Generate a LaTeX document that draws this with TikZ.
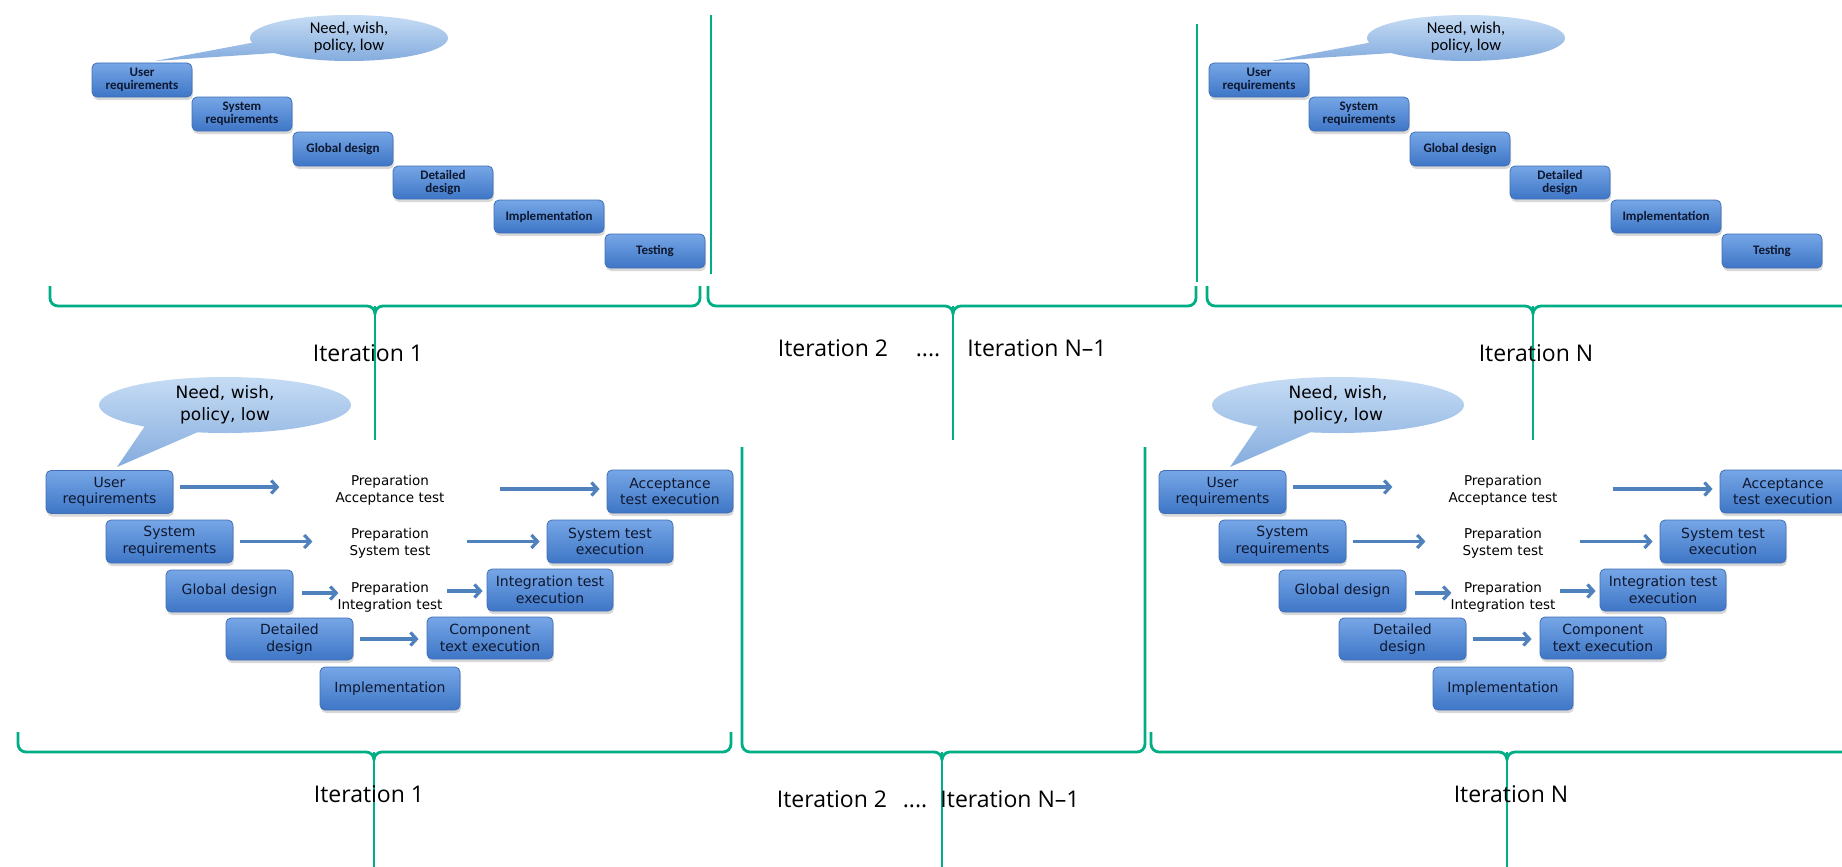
\documentclass[tikz,border=0pt]{standalone}
\usepackage{fontspec}
\newfontfamily\carl{Carlito}
\newfontfamily\dvs{DejaVu Sans}
\newfontfamily\opn{Open Sans}
\usetikzlibrary{arrows.meta,shadows}
\pgfdeclarelayer{bg}
\pgfsetlayers{bg,main}
\definecolor{grn}{RGB}{0,174,134}
\definecolor{boxtop}{RGB}{118,166,230}
\definecolor{boxbot}{RGB}{62,118,198}
\definecolor{boxedge}{RGB}{66,112,180}
\definecolor{txt}{RGB}{14,24,48}
\definecolor{bubtop}{RGB}{198,220,244}
\definecolor{bubbot}{RGB}{132,172,222}
\definecolor{arrowc}{RGB}{79,129,189}
\definecolor{connc}{RGB}{58,92,142}
\tikzset{
  boxbase/.style={draw=boxedge, line width=0.8pt, rounded corners=5pt, top color=boxtop, bottom color=boxbot, text=txt, align=center, inner sep=0pt, drop shadow={opacity=0.3, shadow xshift=1pt, shadow yshift=-3pt}},
  wbox/.style={boxbase, font=\carl\bfseries\fontsize{13}{13.5}\selectfont, minimum width=100pt, minimum height=34pt},
  vbox/.style={boxbase, font=\dvs\fontsize{14}{16.5}\selectfont, minimum width=127pt, minimum height=43pt},
  bubfill/.style={top color=bubtop, bottom color=bubbot},
  wbubtxt/.style={font=\carl\fontsize{16.5}{17}\selectfont, text=black, align=center, inner sep=0pt},
  vbubtxt/.style={font=\dvs\fontsize{17}{21.5}\selectfont, text=black, align=center, inner sep=0pt},
  prep/.style={font=\dvs\fontsize{13.5}{17}\selectfont, text=black, align=center, text width=112pt, inner sep=0pt},
  arr/.style={draw=arrowc, line width=3.2pt, -{Straight Barb[length=6pt,width=13pt]}},
  conn/.style={draw=connc, line width=2.6pt},
  brk/.style={draw=grn, line width=2.8pt, line join=round},
  sepline/.style={draw=grn, line width=2.4pt},
  tipline/.style={draw=grn, line width=1.4pt},
  lbl/.style={font=\opn\fontsize{23}{26}\selectfont, anchor=base, inner sep=0pt, text=black},
}
% waterfall
\newcommand\WF[1]{%
  \node[wbox] (#1UR) at (142,80) {User\\requirements};
  \node[wbox] (#1SR) at (242,114) {System\\requirements};
  \node[wbox] (#1GD) at (343,149) {Global design};
  \node[wbox, minimum height=33pt] (#1DD) at (443,182.5) {Detailed\\design};
  \node[wbox, minimum width=110pt, minimum height=33pt] (#1IM) at (549,216.5) {Implementation};
  \node[wbox] (#1TS) at (655,251) {Testing};
  \coordinate (#1B) at (349,38);
  \shade[bubfill] ([shift={(-93,4)}]#1B) -- ([shift={(-194,23)}]#1B) -- ([shift={(-74,15)}]#1B) -- cycle (#1B) ellipse [x radius=99pt, y radius=23pt];
  \node[wbubtxt] (#1Bt) at (#1B) {Need, wish,\\policy, low};
  \begin{pgfonlayer}{bg}
    \draw[conn] ([xshift=-6pt]#1UR.south east) -- ([yshift=-3pt]#1SR.north west);
    \draw[conn] ([xshift=-6pt]#1SR.south east) -- ([yshift=-3pt]#1GD.north west);
    \draw[conn] ([xshift=-8pt]#1GD.south east) -- ([yshift=-3pt]#1DD.north west);
    \draw[conn] ([xshift=-16pt]#1DD.south east) -- ([yshift=-4pt]#1IM.north west);
    \draw[conn] ([xshift=-28pt]#1IM.south east) -- ([yshift=-11pt]#1TS.north west);
  \end{pgfonlayer}
}
% V-model
\newcommand\VM[1]{%
  \node[vbox] (#1UR) at (109.5,492) {User\\requirements};
  \node[vbox] (#1SR) at (169.5,541.5) {System\\requirements};
  \node[vbox, minimum height=42pt] (#1GD) at (229.5,591) {Global design};
  \node[vbox, minimum height=42pt] (#1DD) at (289.5,639) {Detailed\\design};
  \node[vbox, minimum width=140pt] (#1IM) at (390,688.5) {Implementation};
  \node[vbox, minimum width=126pt, minimum height=42pt] (#1CT) at (490,638) {Component\\text execution};
  \node[vbox, minimum width=126pt, minimum height=42pt] (#1IT) at (550,590) {Integration test\\execution};
  \node[vbox, minimum width=126pt] (#1ST) at (610,541.5) {System test\\execution};
  \node[vbox, minimum width=126pt] (#1AT) at (670,491.5) {Acceptance\\test execution};
  \node[prep] (#1P1) at (390,490) {Preparation\\Acceptance test};
  \node[prep] (#1P2) at (390,543) {Preparation\\System test};
  \node[prep] (#1P3) at (390,597) {Preparation\\Integration test};
  \draw[arr] ([xshift=7pt,yshift=5pt]#1UR.east) -- ++(99,0);
  \draw[arr] ([xshift=-107pt,yshift=2.5pt]#1AT.west) -- ([xshift=-7pt,yshift=2.5pt]#1AT.west);
  \draw[arr] ([xshift=7pt]#1SR.east) -- ++(72,0);
  \draw[arr] ([xshift=-80pt]#1ST.west) -- ([xshift=-7pt]#1ST.west);
  \draw[arr] ([xshift=9pt,yshift=-2pt]#1GD.east) -- ++(36,0);
  \draw[arr] ([xshift=-40pt,yshift=-1pt]#1IT.west) -- ([xshift=-4pt,yshift=-1pt]#1IT.west);
  \draw[arr] ([xshift=7pt]#1DD.east) -- ([xshift=-8pt,yshift=-1pt]#1CT.west);
  \coordinate (#1B) at (225,405);
  \shade[bubfill] ([shift={(-80,21)}]#1B) -- ([shift={(-108,62)}]#1B) -- ([shift={(-27,27)}]#1B) -- cycle (#1B) ellipse [x radius=126pt, y radius=28pt];
  \node[vbubtxt] (#1Bt) at (#1B) {Need, wish,\\policy, low};
  \begin{pgfonlayer}{bg}
    \draw[conn] ([xshift=94pt]#1UR.south west) -- ([xshift=44pt]#1SR.north west);
    \draw[conn] ([xshift=101pt]#1SR.south west) -- ([xshift=54pt]#1GD.north west);
    \draw[conn] ([xshift=114pt]#1GD.south west) -- ([xshift=64pt]#1DD.north west);
    \draw[conn] ([xshift=121pt]#1DD.south west) -- ([xshift=40pt]#1IM.north west);
    \draw[conn] ([xshift=102pt]#1IM.north west) -- ([xshift=6pt]#1CT.south west);
    \draw[conn] ([xshift=68pt]#1CT.north west) -- ([xshift=15pt]#1IT.south west);
    \draw[conn] ([xshift=78pt]#1IT.north west) -- ([xshift=26pt]#1ST.south west);
    \draw[conn] ([xshift=93pt]#1ST.north west) -- ([xshift=41pt]#1AT.south west);
  \end{pgfonlayer}
}
% brace: x1 x2 xc y ytop ybot
\newcommand\Brace[6]{%
  \draw[tipline] (#3,#4) -- (#3,#6);
  \draw[brk] (#1,#5) -- (#1,#4-8) to[out=-90,in=180] (#1+8,#4) -- (#3-8,#4) to[out=0,in=90] (#3,#4+8) to[out=90,in=180] (#3+8,#4) -- (#2-8,#4) to[out=0,in=-90] (#2,#4-8) -- (#2,#5);
}
\begin{document}
\begin{tikzpicture}[x=1pt,y=-1pt]
  \useasboundingbox (0,0) rectangle (1842,867);
  \fill[white] (0,0) rectangle (1842,867);
  \clip (0,0) rectangle (1842,867);
  % top row
  \begin{scope}\WF{a}\end{scope}
  \begin{scope}[shift={(1117,0)}]\WF{b}\end{scope}
  \draw[sepline] (711,15) -- (711,274);
  \draw[sepline] (1197,24) -- (1197,282);
  \Brace{50}{700}{375}{306}{286}{440}
  \Brace{708}{1196}{953}{306}{286}{440}
  \Brace{1207}{1860}{1533}{306}{286}{440}
  \node[lbl] (t1) at (368,361) {Iteration 1};
  \node[lbl] (t2) at (833,356) {Iteration 2};
  \node[lbl] (t3) at (928,356) {....};
  \node[lbl] (t4) at (1037,356) {Iteration N–1};
  \node[lbl] (t5) at (1536,361) {Iteration N};
  % bottom row
  \begin{scope}\VM{c}\end{scope}
  \begin{scope}[shift={(1113,0)}]\VM{d}\end{scope}
  \Brace{18}{731}{374}{752}{732}{867}
  \Brace{742}{1145}{942}{752}{447}{867}
  \Brace{1151}{1860}{1507}{752}{732}{867}
  \node[lbl] (b1) at (369,802) {Iteration 1};
  \node[lbl] (b2) at (832,807) {Iteration 2};
  \node[lbl] (b3) at (915,807) {....};
  \node[lbl] (b4) at (1010,807) {Iteration N–1};
  \node[lbl] (b5) at (1511,802) {Iteration N};
\end{tikzpicture}
\end{document}
